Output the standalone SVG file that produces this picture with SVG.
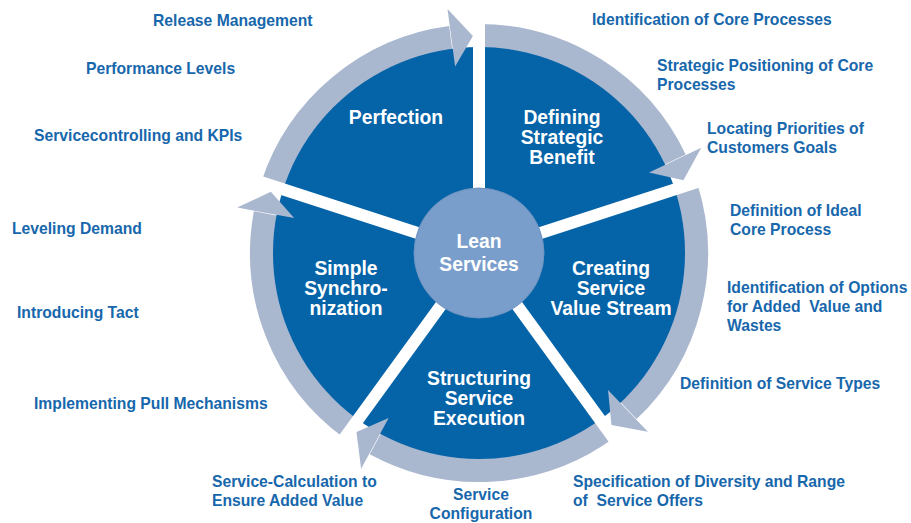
<svg xmlns="http://www.w3.org/2000/svg" xmlns:xlink="http://www.w3.org/1999/xlink" width="911" height="523" viewBox="0 0 911 523">
<style>
.ring{fill:none;stroke:#A9B7CF;stroke-width:24;stroke-linecap:butt}
.head{fill:#A9B7CF}
.gap{stroke:#FFFFFF;stroke-width:12;stroke-linecap:butt}
.seg{font-family:"Liberation Sans",Arial,sans-serif;font-weight:bold;font-size:19.3px;fill:#FFFFFF;text-anchor:middle}
.lbl{font-family:"Liberation Sans",Arial,sans-serif;font-weight:bold;font-size:15.7px;fill:#1767AC}
</style>
<defs>
<path id="arc" d="M -206.4 -67.1 A 217 217 0 0 1 -28.3 -215.1"/>
<polygon id="ahead" points="-31.5,-243.9 -6.1,-216.9 -23.9,-186.6"/>
<line id="gapline" x1="0" y1="0" x2="0" y2="-252"/>
</defs>
<rect width="911" height="523" fill="#FFFFFF"/>
<g id="connectors" transform="translate(479,253)">
<g id="ring-arcs">
<use xlink:href="#arc" class="ring"/>
<use xlink:href="#arc" class="ring" transform="rotate(72)"/>
<use xlink:href="#arc" class="ring" transform="rotate(144)"/>
<use xlink:href="#arc" class="ring" transform="rotate(216)"/>
<use xlink:href="#arc" class="ring" transform="rotate(288)"/>
</g>
<circle id="pie" cx="0" cy="0" r="206" fill="#0563A8"/>
<g id="arrowheads">
<use xlink:href="#ahead" class="head"/>
<use xlink:href="#ahead" class="head" transform="rotate(72)"/>
<use xlink:href="#ahead" class="head" transform="rotate(144)"/>
<use xlink:href="#ahead" class="head" transform="rotate(216)"/>
<use xlink:href="#ahead" class="head" transform="rotate(288)"/>
</g>
<g id="gaps">
<use xlink:href="#gapline" class="gap"/>
<use xlink:href="#gapline" class="gap" transform="rotate(72)"/>
<use xlink:href="#gapline" class="gap" transform="rotate(144)"/>
<use xlink:href="#gapline" class="gap" transform="rotate(216)"/>
<use xlink:href="#gapline" class="gap" transform="rotate(288)"/>
</g>
</g>
<g id="node-center">
<circle cx="479" cy="253" r="65" fill="#7A9ECB" stroke="#6F94C2" stroke-width="1"/>
<text class="seg" x="479" y="248">Lean</text>
<text class="seg" x="479" y="271">Services</text>
</g>
<g id="node-perfection">
<text class="seg" x="396" y="124">Perfection</text>
</g>
<g id="node-defining">
<text class="seg" x="562" y="124">Defining</text>
<text class="seg" x="562" y="144">Strategic</text>
<text class="seg" x="562" y="164">Benefit</text>
</g>
<g id="node-creating">
<text class="seg" x="611" y="275">Creating</text>
<text class="seg" x="611" y="295">Service</text>
<text class="seg" x="611" y="315">Value Stream</text>
</g>
<g id="node-structuring">
<text class="seg" x="479" y="385">Structuring</text>
<text class="seg" x="479" y="405">Service</text>
<text class="seg" x="479" y="425">Execution</text>
</g>
<g id="node-simple">
<text class="seg" x="346" y="275">Simple</text>
<text class="seg" x="346" y="295">Synchro-</text>
<text class="seg" x="346" y="315">nization</text>
</g>
<g id="labels">
<text class="lbl" x="153" y="26">Release Management</text>
<text class="lbl" x="86" y="74">Performance Levels</text>
<text class="lbl" x="34" y="141">Servicecontrolling and KPIs</text>
<text class="lbl" x="12" y="234">Leveling Demand</text>
<text class="lbl" x="17" y="318">Introducing Tact</text>
<text class="lbl" x="34" y="409">Implementing Pull Mechanisms</text>
<text class="lbl" x="212" y="487">Service-Calculation to</text>
<text class="lbl" x="212" y="506">Ensure Added Value</text>
<text class="lbl" x="481" y="500" text-anchor="middle">Service</text>
<text class="lbl" x="481" y="519" text-anchor="middle">Configuration</text>
<text class="lbl" x="573" y="487">Specification of Diversity and Range</text>
<text class="lbl" x="573" y="506" xml:space="preserve">of  Service Offers</text>
<text class="lbl" x="680" y="389">Definition of Service Types</text>
<text class="lbl" x="727" y="293">Identification of Options</text>
<text class="lbl" x="727" y="312" xml:space="preserve">for Added  Value and</text>
<text class="lbl" x="727" y="331">Wastes</text>
<text class="lbl" x="730" y="216">Definition of Ideal</text>
<text class="lbl" x="730" y="235">Core Process</text>
<text class="lbl" x="707" y="134">Locating Priorities of</text>
<text class="lbl" x="707" y="153">Customers Goals</text>
<text class="lbl" x="657" y="71">Strategic Positioning of Core</text>
<text class="lbl" x="657" y="90">Processes</text>
<text class="lbl" x="592" y="25">Identification of Core Processes</text>
</g>
</svg>
